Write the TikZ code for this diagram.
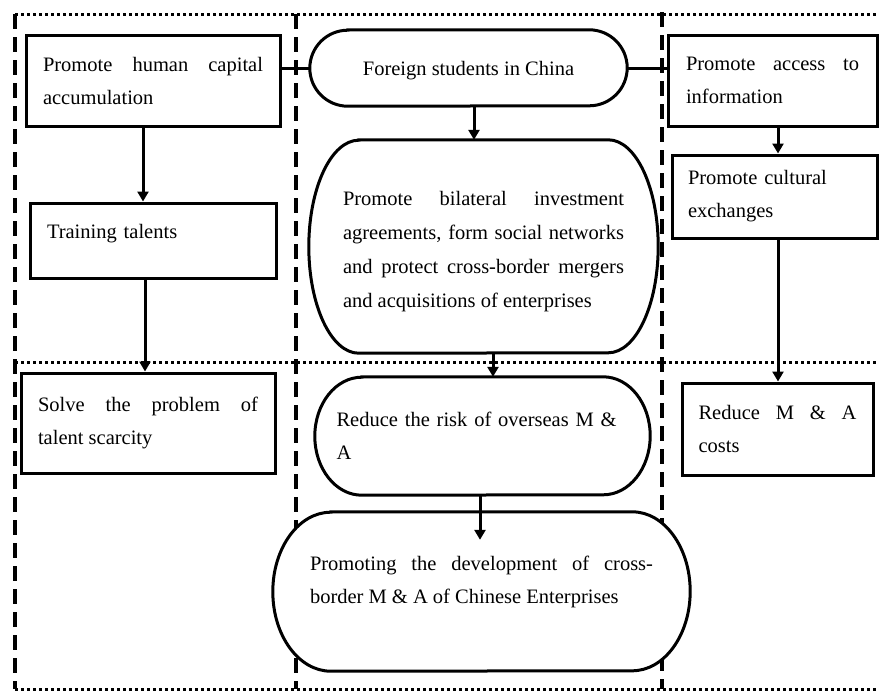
\documentclass[tikz,border=0pt]{standalone}
\usepackage{fontspec}
\setmainfont{Liberation Serif}
\usetikzlibrary{arrows.meta}
\pgfdeclarelayer{frame}
\pgfdeclarelayer{capsules}
\pgfsetlayers{frame,capsules,main}
\newcommand{\drawcapsule}[3]{%
  \begin{pgfonlayer}{capsules}
    \draw[line width=3pt, fill=white] ([xshift=#2]#1.north west) -- ([xshift=-#2]#1.north east)
      arc[start angle=90,end angle=-90,x radius=#2,y radius=#3]
      -- ([xshift=#2]#1.south west)
      arc[start angle=270,end angle=90,x radius=#2,y radius=#3] -- cycle;
  \end{pgfonlayer}}

\begin{document}
\begin{tikzpicture}[x=1pt,y=-1pt,>={Triangle[length=10pt,width=11pt]},
    font=\fontsize{20.5}{33}\selectfont]
    \tikzstyle{box}=[rectangle, draw, line width=3pt, fill=white, align=justify]
    \tikzstyle{capsule}=[rectangle, align=justify]
    \tikzstyle{wire}=[line width=3pt]
    \tikzstyle{divider}=[line width=4pt, dash pattern=on 15pt off 8pt]
    \tikzstyle{dotrule}=[line width=3pt, dash pattern=on 3pt off 3pt]
    \useasboundingbox (0,0) rectangle (879,691);
    \begin{pgfonlayer}{frame}
      \draw[dotrule] (15,14) -- (879,14);
      \draw[dotrule] (15,362) -- (879,362);
      \draw[dotrule] (15,689) -- (879,689);
      \draw[divider] (15,14) -- (15,689);
      \draw[divider] (296,14) -- (296,689);
      \draw[divider] (662,12) -- (662,689);
    \end{pgfonlayer}
    \node[box, minimum width=254pt, minimum height=91pt, text width=220pt] (capital) at (153,80.5) {Promote human capital\linebreak accumulation};
    \node[box, minimum width=246pt, minimum height=75pt, text width=212pt, align=left, text depth=19pt] (training) at (153,240.5) {Training talents};
    \node[box, minimum width=254pt, minimum height=100pt, text width=220pt] (scarcity) at (148,423) {Solve the problem of\linebreak talent scarcity};
    \node[capsule, minimum width=317pt, minimum height=76pt, text depth=0pt] (foreign) at (468.5,68) {Foreign students in China};
    \node[capsule, minimum width=349pt, minimum height=213pt, text width=281pt, text depth=97pt, font=\fontsize{20.5}{34}\selectfont] (bilateral) at (483.5,246.5) {Promote bilateral investment\linebreak agreements, form social networks\linebreak and protect cross-border mergers\linebreak and acquisitions of enterprises};
    \node[capsule, minimum width=335pt, minimum height=118pt, text width=292pt, align=left] (risk) at (482.5,436) {Reduce the risk of overseas M \&\\A};
    \node[capsule, minimum width=417pt, minimum height=159pt, text width=343pt, text depth=57pt] (final) at (481.5,591.5) {Promoting the development of cross-\linebreak border M \& A of Chinese Enterprises};
    \node[box, minimum width=209pt, minimum height=91pt, text width=173pt] (access) at (772.5,80.5) {Promote access to\linebreak information};
    \node[box, minimum width=205pt, minimum height=83pt, text width=173pt, align=left] (cultural) at (774.5,196.5) {Promote cultural\\exchanges};
    \node[box, minimum width=191pt, minimum height=92pt, text width=158pt] (costs) at (777.5,429) {Reduce M \& A\linebreak costs};
    \drawcapsule{foreign}{38pt}{38pt}
    \drawcapsule{bilateral}{50pt}{106.5pt}
    \drawcapsule{risk}{47pt}{59pt}
    \drawcapsule{final}{58pt}{79.5pt}
    \draw[wire] (foreign.west) -- (foreign.west -| capital.east);
    \draw[wire] (foreign.east) -- (foreign.east -| access.west);
    \draw[wire,->] ([xshift=-10pt]capital.south) -- ([xshift=-10pt]capital.south |- training.north);
    \draw[wire,->] ([xshift=-8pt]training.south) -- ([xshift=-8pt]training.south |- scarcity.north);
    \draw[wire,->] ([xshift=5.5pt]foreign.south) -- ([xshift=5.5pt]foreign.south |- bilateral.north);
    \draw[wire,->] ([xshift=9.5pt]bilateral.south) -- ([xshift=9.5pt]bilateral.south |- risk.north);
    \draw[wire,->, shorten >=-28pt] ([xshift=-2.5pt]risk.south) -- ([xshift=-2.5pt]risk.south |- final.north);
    \draw[wire,->] ([xshift=5.5pt]access.south) -- ([xshift=5.5pt]access.south |- cultural.north);
    \draw[wire,->] ([xshift=3.5pt]cultural.south) -- ([xshift=3.5pt]cultural.south |- costs.north);
\end{tikzpicture}
\end{document}
